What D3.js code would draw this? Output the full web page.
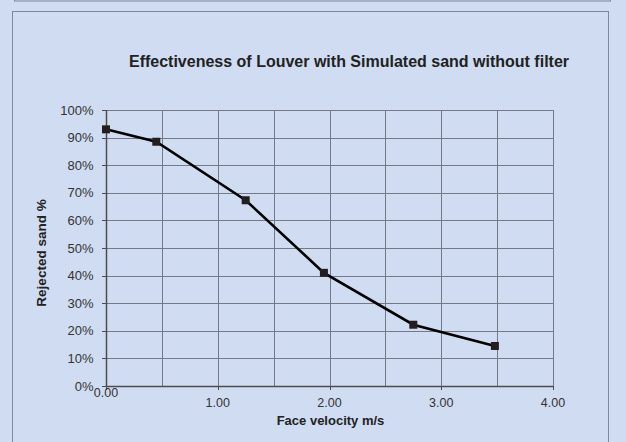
<!DOCTYPE html>
<html><head><meta charset="utf-8">
<script src="https://cdn.jsdelivr.net/npm/d3@7"></script>
<style>html,body{margin:0;padding:0;background:#cfdcf1;}svg{display:block;font-family:"Liberation Sans",Arial,sans-serif;}</style>
</head><body>
<svg id="c" width="626" height="442"></svg>
<script>
const velocity = [0.00, 0.45, 1.25, 1.95, 2.75, 3.48];
const rejected = [93, 88.5, 67.3, 41, 22.2, 14.5];
const xTicks = [0, 1, 2, 3, 4];
const xGrid = [0.5, 1, 1.5, 2, 2.5, 3, 3.5, 4];
const yTicks = [0, 10, 20, 30, 40, 50, 60, 70, 80, 90, 100];
const title = "Effectiveness of Louver with Simulated sand without filter";
const xTitle = "Face velocity m/s";
const yTitle = "Rejected sand %";

const svg = d3.select("#c");
svg.append("rect").attr("width",626).attr("height",442).attr("fill","#cfdcf1");
svg.append("rect").attr("x",14.5).attr("y",-10).attr("width",596).attr("height",11).attr("fill","none").attr("stroke","#7f8a99").attr("stroke-width",1);
svg.append("rect").attr("x",12.5).attr("y",11.5).attr("width",596).attr("height",450).attr("fill","none").attr("stroke","#7f8a99").attr("stroke-width",1);

const x = d3.scaleLinear().domain([0,4]).range([106,553]);
const y = d3.scaleLinear().domain([0,100]).range([386,110]);

const g = svg.append("g");
g.selectAll(".hg").data(yTicks.filter(d=>d>0)).join("line")
  .attr("x1",x(0)).attr("x2",x(4)).attr("y1",d=>Math.round(y(d))+0.5).attr("y2",d=>Math.round(y(d))+0.5)
  .attr("stroke","#737986").attr("stroke-width",1);
g.selectAll(".vg").data(xGrid).join("line")
  .attr("y1",y(0)).attr("y2",y(100)).attr("x1",d=>Math.round(x(d))+0.5).attr("x2",d=>Math.round(x(d))+0.5)
  .attr("stroke","#737986").attr("stroke-width",1);
g.append("line").attr("x1",x(0)+0.5).attr("x2",x(0)+0.5).attr("y1",y(100)).attr("y2",y(0)).attr("stroke","#4d4d4d").attr("stroke-width",1.5);
g.append("line").attr("x1",x(0)).attr("x2",x(4)).attr("y1",Math.round(y(0))+0.5).attr("y2",Math.round(y(0))+0.5).attr("stroke","#4d4d4d").attr("stroke-width",1.5);
g.selectAll(".yt").data(yTicks).join("line")
  .attr("x1",x(0)-4).attr("x2",x(0)).attr("y1",d=>Math.round(y(d))+0.5).attr("y2",d=>Math.round(y(d))+0.5)
  .attr("stroke","#4d4d4d");
g.selectAll(".yl").data(yTicks).join("text")
  .attr("x",93.5).attr("y",d=>y(d)+4.6).attr("text-anchor","end")
  .attr("font-size",13).attr("fill","#333").text(d=>d+"%");
g.selectAll(".xt").data(xTicks).join("line")
  .attr("x1",d=>Math.round(x(d))+0.5).attr("x2",d=>Math.round(x(d))+0.5).attr("y1",y(0)).attr("y2",y(0)+4)
  .attr("stroke","#4d4d4d");
g.selectAll(".xl").data(xTicks).join("text")
  .attr("x",d=>x(d)).attr("y",d=>d===0?397:407).attr("text-anchor","middle")
  .attr("font-size",12.5).attr("fill","#333").text(d=>d.toFixed(2));

const pts = velocity.map((v,i)=>[v,rejected[i]]);
g.append("path").datum(pts)
  .attr("d",d3.line().x(d=>x(d[0])).y(d=>y(d[1])))
  .attr("fill","none").attr("stroke","#000").attr("stroke-width",2.6);
g.selectAll(".m").data(pts).join("rect")
  .attr("x",d=>x(d[0])-4).attr("y",d=>y(d[1])-4).attr("width",8).attr("height",8)
  .attr("fill","#231f20");

svg.append("text").attr("x",349).attr("y",67).attr("text-anchor","middle")
  .attr("font-size",16).attr("font-weight","bold").attr("fill","#222").text(title);
svg.append("text").attr("x",330.5).attr("y",425).attr("text-anchor","middle")
  .attr("font-size",13).attr("font-weight","bold").attr("fill","#222").text(xTitle);
svg.append("text").attr("transform","translate(45.5,253) rotate(-90)").attr("text-anchor","middle")
  .attr("font-size",13.5).attr("font-weight","bold").attr("fill","#222").text(yTitle);
</script>
</body></html>
